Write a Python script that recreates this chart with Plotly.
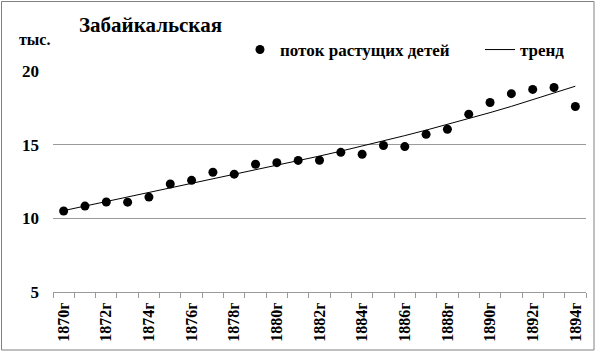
import numpy as np
import plotly.graph_objects as go

years = list(range(1870, 1895))
flow = [10.50, 10.83, 11.11, 11.10, 11.44, 12.33, 12.58, 13.13, 13.00, 13.67,
        13.78, 13.93, 13.94, 14.48, 14.35, 14.94, 14.87, 15.70, 16.05, 17.07,
        17.86, 18.46, 18.75, 18.88, 17.59]
tick_years = list(range(1870, 1895, 2))
tick_labels = [f"{y}г" for y in tick_years]
y_ticks = [5, 10, 15, 20]
y_labels = ["5", "10", "15", "20"]

# polynomial trend line (regression of the data)
coef = np.polyfit(np.array(years) - 1870, flow, 3)
trend = np.polyval(coef, np.array(years) - 1870)

W, H = 600, 357
L, R, T, B = 53, 14, 71, 65
PW, PH = W - L - R, H - T - B


def px(x):
    return (x - L) / PW


def py(y):
    return (H - B - y) / PH


FONT = "Liberation Serif, serif"
GRID = "#9a9a9a"


def bold(size):
    return dict(family=FONT, size=size, weight="bold", color="black")


fig = go.Figure()
fig.add_trace(go.Scatter(
    x=years, y=flow, mode="markers", name="поток растущих детей",
    marker=dict(color="black", size=9), legend="legend", showlegend=True))
fig.add_trace(go.Scatter(
    x=years, y=trend, mode="lines", name="тренд",
    line=dict(color="black", width=1), legend="legend2", showlegend=True))

fig.update_layout(
    width=W, height=H,
    showlegend=True,
    margin=dict(l=L, r=R, t=T, b=B, autoexpand=False),
    paper_bgcolor="white", plot_bgcolor="white",
    font=dict(family=FONT, color="black", size=16),
    legend=dict(orientation="h", xref="container", yref="container",
                x=240 / W, y=1 - 50 / H, xanchor="left", yanchor="middle",
                bgcolor="rgba(0,0,0,0)", font=bold(17)),
    legend2=dict(orientation="h", xref="container", yref="container",
                 x=480 / W, y=1 - 50 / H, xanchor="left", yanchor="middle",
                 bgcolor="rgba(0,0,0,0)", font=bold(17)),
    xaxis=dict(range=[1869.5, 1894.5], tickvals=tick_years, ticktext=tick_labels,
               tickangle=-90, ticks="outside", ticklen=0, showgrid=False, zeroline=False,
               showline=True, linecolor=GRID, linewidth=1, automargin=False,
               tickfont=bold(16), ticklabelstandoff=3,
               minor=dict(ticks="outside", ticklen=5, tickcolor=GRID, tick0=1869.5, dtick=1,
                          showgrid=False)),
    yaxis=dict(range=[5, 20], tickvals=y_ticks, ticktext=y_labels, showgrid=True,
               gridcolor=GRID, gridwidth=1, zeroline=False, showline=False,
               ticks="", ticklabelstandoff=13, automargin=False,
               tickfont=bold(17)),
    annotations=[
        dict(text="Забайкальская", xref="paper", yref="paper", x=px(150), y=py(25),
             xanchor="center", yanchor="middle", showarrow=False, font=bold(21)),
        dict(text="тыс.", xref="paper", yref="paper", x=px(34), y=py(39),
             xanchor="center", yanchor="middle", showarrow=False, font=bold(16)),
    ],
    shapes=[dict(type="rect", xref="paper", yref="paper", x0=px(1.5), x1=px(594),
                 y0=py(350), y1=py(1.5), line=dict(color="#808080", width=1))],
)

fig.write_html("out.html", config={"displayModeBar": False},
               post_script="document.body.style.margin='0';")
